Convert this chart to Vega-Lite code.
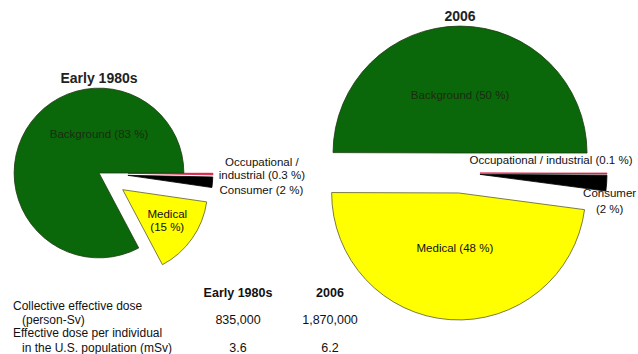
{
  "$schema": "https://vega.github.io/schema/vega-lite/v6.json",
  "width": 638,
  "height": 354,
  "padding": 0,
  "autosize": {"type": "none"},
  "background": "white",
  "config": {"view": {"stroke": null}, "font": "Liberation Sans", "text": {"font": "Liberation Sans"}},
  "datasets": {
    "summary": [
      {"period": "Early 1980s", "collective": 835000, "individual": 3.6},
      {"period": "2006", "collective": 1870000, "individual": 6.2}
    ],
    "slices": [
      {"period": "Early 1980s", "source": "Occupational / industrial", "percent": 0.3, "label": "Occupational /\nindustrial (0.3 %)"},
      {"period": "Early 1980s", "source": "Consumer", "percent": 2, "label": "Consumer (2 %)"},
      {"period": "Early 1980s", "source": "Medical", "percent": 15, "label": "Medical\n(15 %)"},
      {"period": "Early 1980s", "source": "Background", "percent": 83, "label": "Background (83 %)"},
      {"period": "2006", "source": "Occupational / industrial", "percent": 0.1, "label": "Occupational / industrial (0.1 %)"},
      {"period": "2006", "source": "Consumer", "percent": 2, "label": "Consumer\n(2 %)"},
      {"period": "2006", "source": "Medical", "percent": 48, "label": "Medical (48 %)"},
      {"period": "2006", "source": "Background", "percent": 50, "label": "Background (50 %)"}
    ],
    "metrics": [
      {"metric": "collective", "line1": "Collective effective dose", "line2": "(person-Sv)"},
      {"metric": "individual", "line1": "Effective dose per individual", "line2": "in the U.S. population (mSv)"}
    ]
  },
  "layer": [
    {
      "data": {"name": "slices"},
      "transform": [
        {"lookup": "period", "from": {"data": {"name": "summary"}, "key": "period", "fields": ["collective"]}},
        {"calculate": "indexof(['Occupational / industrial','Consumer','Medical','Background'], datum.source)", "as": "ord"},
        {"stack": "percent", "groupby": ["period"], "sort": [{"field": "ord", "order": "ascending"}], "offset": "normalize", "as": ["a0", "a1"]},
        {"calculate": "(datum.a0 + datum.a1) / 2", "as": "mid"},
        {"calculate": "PI / 2 + 2 * PI * datum.mid", "as": "ang"},
        {"calculate": "2 * PI * (datum.a1 - datum.a0)", "as": "alpha"},
        {"calculate": "datum.period == '2006' ? 20 : (datum.source == 'Background' ? 0 : 29)", "as": "explode"},
        {"calculate": "datum.explode * sin(datum.ang)", "as": "ex"},
        {"calculate": "datum.explode * cos(datum.ang)", "as": "ey"},
        {"calculate": "datum.collective * pow(4 * sin(datum.alpha / 2) / (3 * datum.alpha), 2)", "as": "rcentroid"},
        {"calculate": "datum.collective * 0.2025", "as": "rtop"}
      ],
      "encoding": {
        "x": {"field": "period", "type": "nominal", "axis": null,
              "scale": {"type": "point", "domain": ["Early 1980s", "2006"], "range": [99, 460], "padding": 0}},
        "xOffset": {"field": "ex", "type": "quantitative",
              "scale": {"domain": [-200, 200], "range": [-200, 200], "zero": false, "nice": false}},
        "y": {"field": "ey", "type": "quantitative", "axis": null,
              "scale": {"domain": [-181, 173], "zero": false, "nice": false}}
      },
      "layer": [
        {
          "mark": {"type": "arc", "strokeWidth": 0.8},
          "encoding": {
            "theta": {"field": "a0", "type": "quantitative", "stack": null,
                      "scale": {"domain": [0, 1], "range": [1.5707963, 7.8539816]}},
            "theta2": {"field": "a1"},
            "radius": {"field": "collective", "type": "quantitative",
                       "scale": {"type": "sqrt", "domain": [0, 1870000], "range": [0, 127], "zero": true}},
            "fill": {"field": "source", "type": "nominal", "legend": null,
                     "scale": {"domain": ["Background", "Medical", "Consumer", "Occupational / industrial"],
                               "range": ["#0a680a", "#ffff00", "#000000", "#d6173f"]}},
            "stroke": {"field": "source", "type": "nominal", "legend": null,
                       "scale": {"domain": ["Background", "Medical", "Consumer", "Occupational / industrial"],
                                 "range": ["#1d3a12", "#5a5a30", "#000000", "#d6173f"]}}
          }
        },
        {
          "transform": [{"filter": "datum.source == 'Background'"}],
          "mark": {"type": "text", "fontSize": 14, "fontWeight": "bold", "baseline": "bottom", "align": "center", "dy": -2, "color": "#222222"},
          "encoding": {
            "text": {"field": "period"},
            "theta": {"value": 0},
            "radius": {"field": "collective", "type": "quantitative"}
          }
        },
        {
          "transform": [{"filter": "datum.source == 'Background'"}],
          "mark": {"type": "text", "fontSize": 11.5, "align": "center", "baseline": "middle", "color": "#1c2b12"},
          "encoding": {
            "text": {"field": "label"},
            "theta": {"value": 0},
            "radius": {"field": "rtop", "type": "quantitative"}
          }
        },
        {
          "transform": [{"filter": "datum.source == 'Medical' && datum.period == 'Early 1980s'"}],
          "mark": {"type": "text", "fontSize": 11.5, "lineBreak": "\n", "lineHeight": 13, "align": "center", "baseline": "middle", "dy": -6.5, "color": "#111111"},
          "encoding": {
            "text": {"field": "label"},
            "theta": {"field": "mid", "type": "quantitative", "stack": null},
            "radius": {"field": "rcentroid", "type": "quantitative"}
          }
        },
        {
          "transform": [{"filter": "datum.source == 'Medical' && datum.period == '2006'"}],
          "mark": {"type": "text", "fontSize": 11.5, "align": "center", "baseline": "middle", "color": "#111111"},
          "encoding": {
            "text": {"field": "label"},
            "theta": {"field": "mid", "type": "quantitative", "stack": null},
            "radius": {"field": "rcentroid", "type": "quantitative"}
          }
        },
        {
          "transform": [{"filter": "datum.period == 'Early 1980s' && datum.source == 'Occupational / industrial'"}],
          "mark": {"type": "text", "fontSize": 11.5, "lineBreak": "\n", "lineHeight": 13, "align": "center", "baseline": "middle", "dx": 49, "dy": -11, "color": "#111111"},
          "encoding": {
            "text": {"field": "label"},
            "theta": {"field": "mid", "type": "quantitative", "stack": null},
            "radius": {"field": "collective", "type": "quantitative"}
          }
        },
        {
          "transform": [{"filter": "datum.period == 'Early 1980s' && datum.source == 'Consumer'"}],
          "mark": {"type": "text", "fontSize": 11.5, "align": "left", "baseline": "middle", "dx": 7, "dy": 9, "color": "#111111"},
          "encoding": {
            "text": {"field": "label"},
            "theta": {"field": "mid", "type": "quantitative", "stack": null},
            "radius": {"field": "collective", "type": "quantitative"}
          }
        },
        {
          "transform": [{"filter": "datum.period == '2006' && datum.source == 'Occupational / industrial'"}],
          "mark": {"type": "text", "fontSize": 11.5, "align": "center", "baseline": "middle", "dx": -56, "dy": -12, "color": "#111111"},
          "encoding": {
            "text": {"field": "label"},
            "theta": {"field": "mid", "type": "quantitative", "stack": null},
            "radius": {"field": "collective", "type": "quantitative"}
          }
        },
        {
          "transform": [{"filter": "datum.period == '2006' && datum.source == 'Consumer'"}],
          "mark": {"type": "text", "fontSize": 11.5, "lineBreak": "\n", "lineHeight": 16, "align": "center", "baseline": "middle", "dx": 3, "dy": 11, "color": "#111111"},
          "encoding": {
            "text": {"field": "label"},
            "theta": {"field": "mid", "type": "quantitative", "stack": null},
            "radius": {"field": "collective", "type": "quantitative"}
          }
        }
      ]
    },
    {
      "encoding": {
        "y": {"field": "row", "type": "nominal", "axis": null,
              "scale": {"type": "point", "domain": ["header", "collective", "individual"], "range": [299.5, 354.5], "padding": 0}}
      },
      "layer": [
        {
          "data": {"name": "summary"},
          "transform": [{"calculate": "'header'", "as": "row"}],
          "mark": {"type": "text", "fontSize": 12.5, "fontWeight": "bold", "align": "center", "baseline": "bottom", "color": "#111111"},
          "encoding": {
            "x": {"field": "period", "type": "nominal", "axis": null,
                  "scale": {"type": "point", "domain": ["Early 1980s", "2006"], "range": [238, 330], "padding": 0}},
            "text": {"field": "period"}
          }
        },
        {
          "data": {"name": "summary"},
          "transform": [{"fold": ["collective", "individual"], "as": ["row", "val"]}],
          "mark": {"type": "text", "fontSize": 12.5, "align": "center", "baseline": "bottom", "color": "#111111"},
          "encoding": {
            "x": {"field": "period", "type": "nominal", "axis": null,
                  "scale": {"type": "point", "domain": ["Early 1980s", "2006"], "range": [238, 330], "padding": 0}},
            "text": {"field": "val", "type": "quantitative", "format": ","}
          }
        },
        {
          "data": {"name": "metrics"},
          "transform": [{"calculate": "datum.metric", "as": "row"}],
          "mark": {"type": "text", "fontSize": 12, "align": "left", "baseline": "bottom", "dy": -14.5, "color": "#111111"},
          "encoding": {
            "x": {"field": "metric", "type": "nominal", "axis": null,
                  "scale": {"type": "point", "domain": ["collective", "individual"], "range": [13, 13], "padding": 0}},
            "text": {"field": "line1"}
          }
        },
        {
          "data": {"name": "metrics"},
          "transform": [{"calculate": "datum.metric", "as": "row"}],
          "mark": {"type": "text", "fontSize": 12, "align": "left", "baseline": "bottom", "dx": 9, "color": "#111111"},
          "encoding": {
            "x": {"field": "metric", "type": "nominal", "axis": null,
                  "scale": {"type": "point", "domain": ["collective", "individual"], "range": [13, 13], "padding": 0}},
            "text": {"field": "line2"}
          }
        }
      ],
      "resolve": {"scale": {"x": "independent"}}
    }
  ],
  "resolve": {"scale": {"x": "independent", "y": "independent"}}
}
